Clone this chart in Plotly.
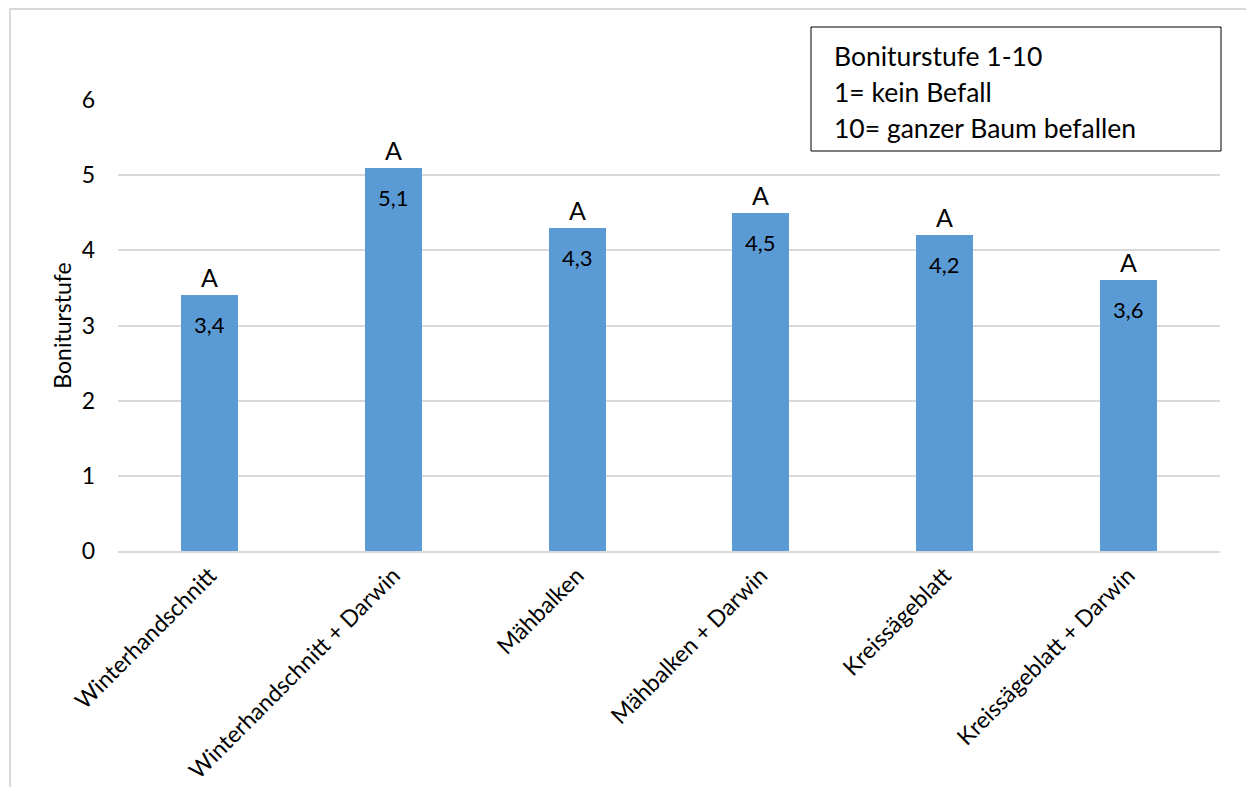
import plotly.graph_objects as go

# Treatments and their mean infestation rating
categories = [
    "Winterhandschnitt",
    "Winterhandschnitt + Darwin",
    "Mähbalken",
    "Mähbalken + Darwin",
    "Kreissägeblatt",
    "Kreissägeblatt + Darwin",
]
values = [3.4, 5.1, 4.3, 4.5, 4.2, 3.6]
letters = ["A", "A", "A", "A", "A", "A"]
y_ticks = [0, 1, 2, 3, 4, 5, 6]
note_lines = ["Boniturstufe 1-10", "1= kein Befall", "10= ganzer Baum befallen"]

FONT = "Lato"
BAR = "#5B9BD5"
GRID = "#D9D9D9"

W, H = 1246, 787
L, R, T, B = 118, 26, 100, 236
PW, PH = W - L - R, H - T - B


def px_x(p):
    return (p - L) / PW


def px_y(p):
    return (H - B - p) / PH


fig = go.Figure()
fig.add_trace(go.Bar(
    x=categories,
    y=values,
    width=0.312,
    marker=dict(color=BAR, line=dict(width=0)),
    hoverinfo="skip",
))

annotations = []
for cat, v, letter in zip(categories, values, letters):
    # value label inside the top of the bar
    annotations.append(dict(
        x=cat, y=v, xref="x", yref="y",
        text=f"{v:.1f}".replace(".", ","),
        showarrow=False, yanchor="top", yshift=-14,
        font=dict(family=FONT, size=22, color="#000000"),
    ))
    # significance letter above the bar
    annotations.append(dict(
        x=cat, y=v, xref="x", yref="y",
        text=letter,
        showarrow=False, yanchor="bottom", yshift=1,
        font=dict(family=FONT, size=25, color="#000000"),
    ))

# note box text
for line, cy in zip(note_lines, [56, 92, 128]):
    annotations.append(dict(
        x=px_x(832), y=px_y(cy), xref="paper", yref="paper",
        text=line, showarrow=False, xanchor="left", yanchor="middle",
        font=dict(family=FONT, size=26.5, color="#000000"),
    ))

shapes = [
    # outer chart border
    dict(type="rect", xref="paper", yref="paper",
         x0=px_x(10), x1=px_x(1252), y0=px_y(795), y1=px_y(9),
         line=dict(color=GRID, width=2), fillcolor="rgba(0,0,0,0)", layer="below"),
    # note box
    dict(type="rect", xref="paper", yref="paper",
         x0=px_x(811), x1=px_x(1221), y0=px_y(151), y1=px_y(27),
         line=dict(color="#000000", width=1), fillcolor="#FFFFFF"),
]

fig.update_layout(
    width=W, height=H,
    margin=dict(l=L, r=R, t=T, b=B),
    paper_bgcolor="#FFFFFF",
    plot_bgcolor="#FFFFFF",
    showlegend=False,
    bargap=0.0,
    font=dict(family=FONT, size=22, color="#000000"),
    annotations=annotations,
    shapes=shapes,
    xaxis=dict(
        tickangle=-45,
        tickfont=dict(family=FONT, size=23, color="#000000"),
        showgrid=False,
        showline=True, linecolor=GRID, linewidth=2,
        ticks="", ticklabelstandoff=0,
        automargin=False,
    ),
    yaxis=dict(
        range=[0, 6],
        tickvals=y_ticks,
        tickfont=dict(family=FONT, size=23, color="#000000"),
        showgrid=True, gridcolor=GRID, gridwidth=2,
        zeroline=False, showline=False,
        ticks="", ticklabelstandoff=22,
        title=dict(text="Boniturstufe", font=dict(family=FONT, size=23, color="#000000"), standoff=3),
        automargin=False,
    ),
)

fig.write_html("out.html")
